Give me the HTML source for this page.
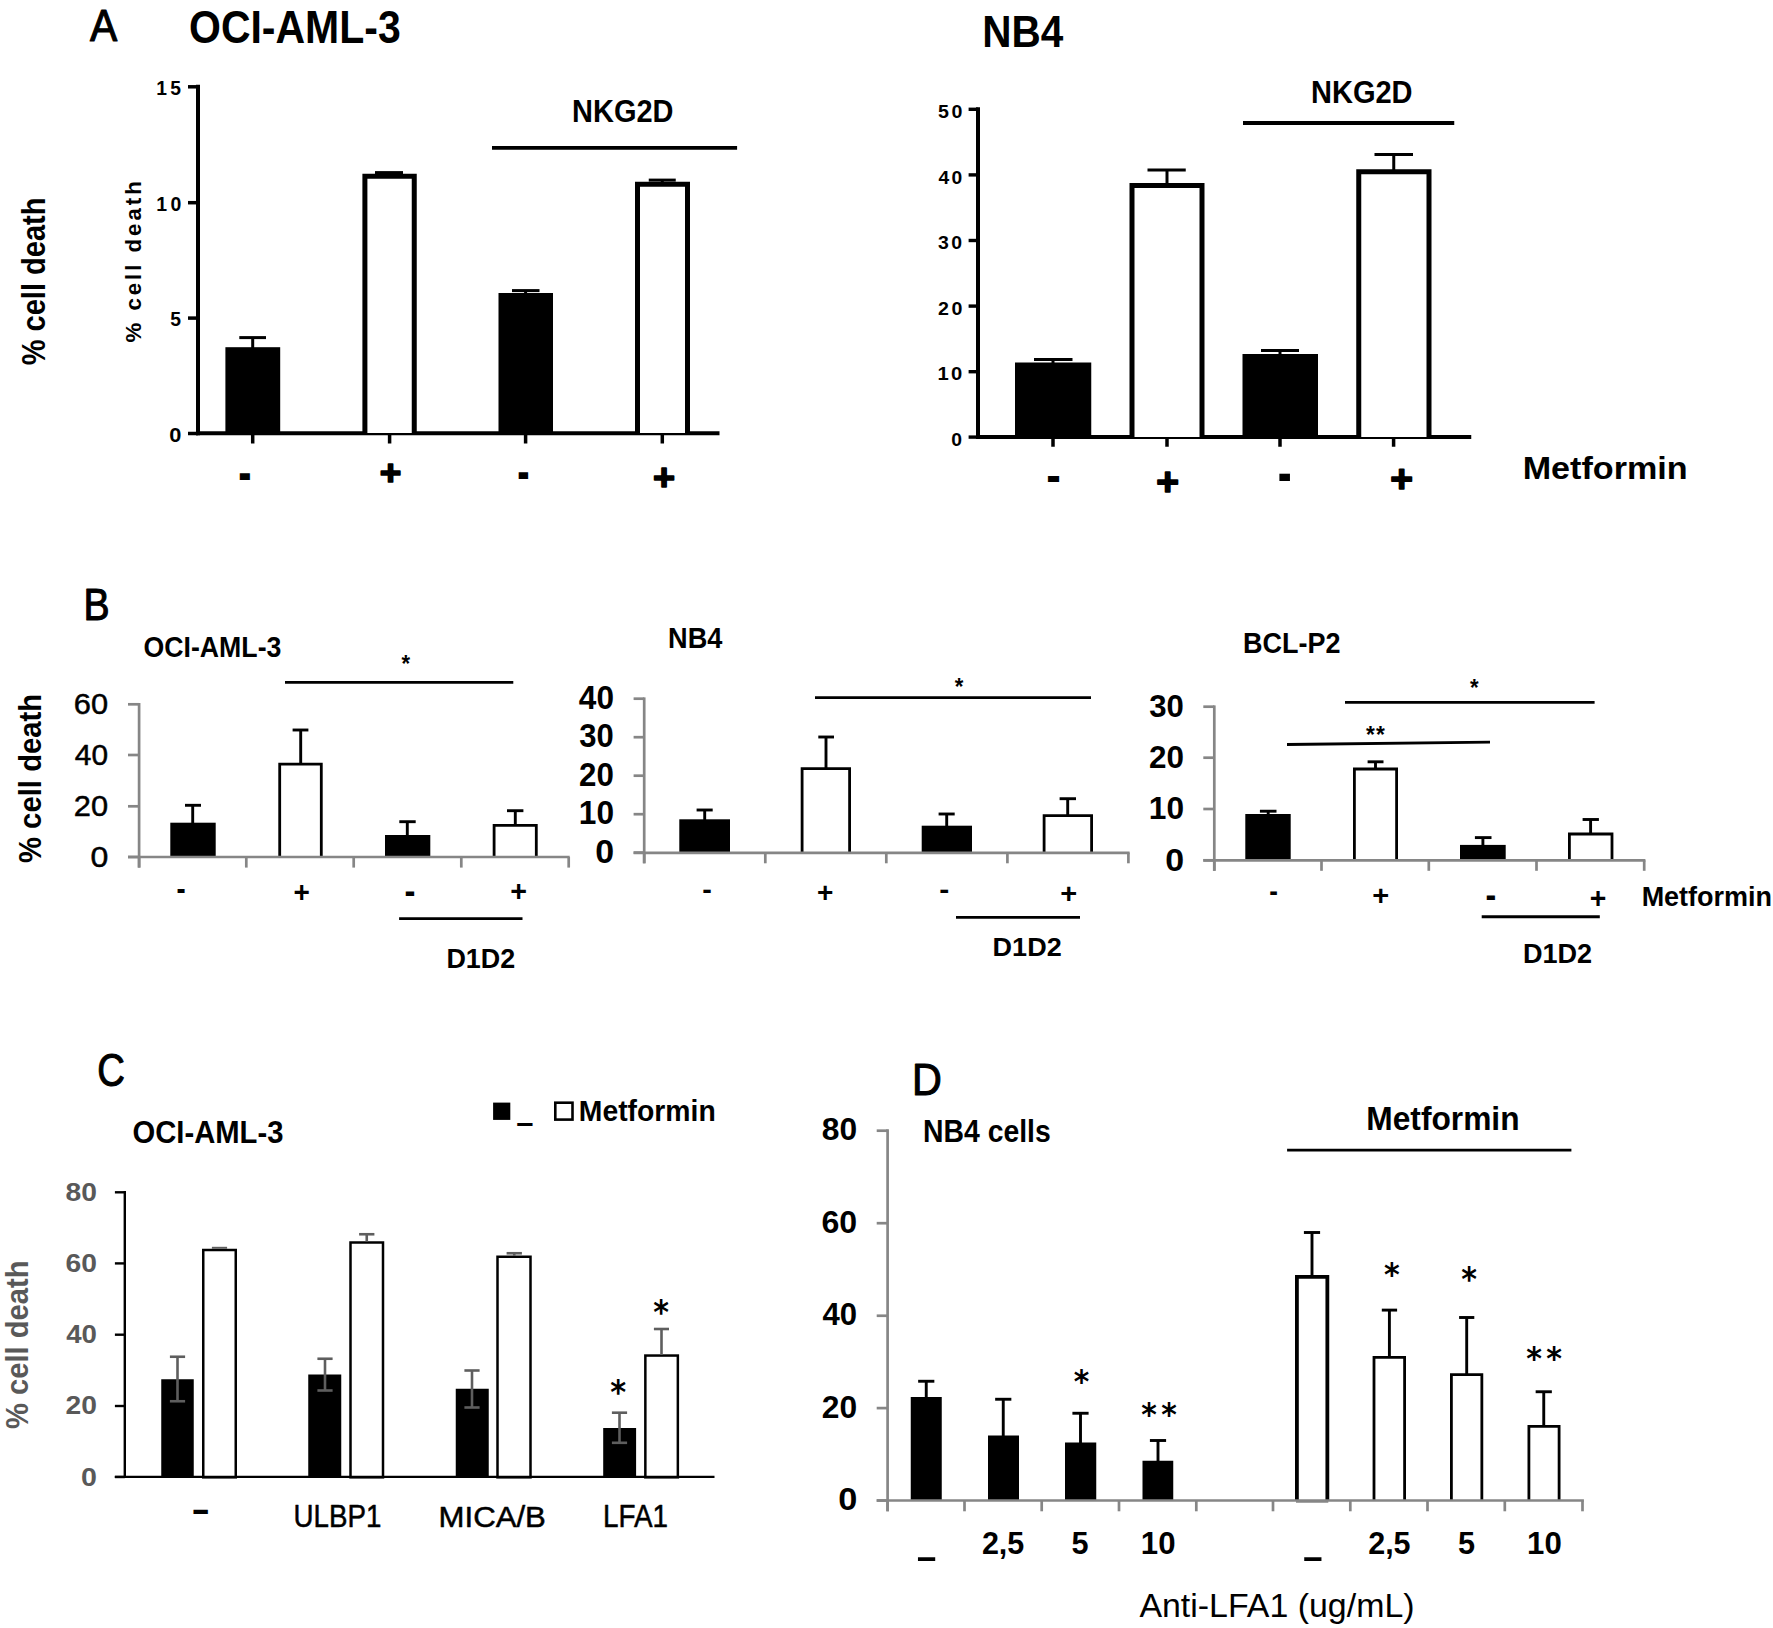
<!DOCTYPE html>
<html lang="en"><head><meta charset="utf-8"><title>Figure</title>
<style>html,body{margin:0;padding:0;background:#fff}svg{display:block}text{white-space:pre}</style></head>
<body>
<svg width="1773" height="1628" viewBox="0 0 1773 1628">
<line x1="198.00" y1="84.80" x2="198.00" y2="435.30" stroke="#000" stroke-width="4"/>
<line x1="188.00" y1="86.80" x2="198.00" y2="86.80" stroke="#000" stroke-width="3.5"/>
<line x1="188.00" y1="202.70" x2="198.00" y2="202.70" stroke="#000" stroke-width="3.5"/>
<line x1="188.00" y1="318.10" x2="198.00" y2="318.10" stroke="#000" stroke-width="3.5"/>
<line x1="188.00" y1="433.50" x2="198.00" y2="433.50" stroke="#000" stroke-width="3.5"/>
<line x1="196.00" y1="433.30" x2="719.50" y2="433.30" stroke="#000" stroke-width="4"/>
<line x1="252.70" y1="433.00" x2="252.70" y2="443.50" stroke="#000" stroke-width="3.5"/>
<line x1="389.60" y1="433.00" x2="389.60" y2="443.50" stroke="#000" stroke-width="3.5"/>
<line x1="525.60" y1="433.00" x2="525.60" y2="443.50" stroke="#000" stroke-width="3.5"/>
<line x1="662.30" y1="433.00" x2="662.30" y2="443.50" stroke="#000" stroke-width="3.5"/>
<rect x="225.40" y="347.20" width="54.80" height="85.80" fill="#000"/>
<line x1="252.70" y1="337.60" x2="252.70" y2="348.00" stroke="#000" stroke-width="3"/>
<line x1="239.30" y1="337.60" x2="266.00" y2="337.60" stroke="#000" stroke-width="3"/>
<path d="M364.90,433.00 L364.90,176.25 L414.25,176.25 L414.25,433.00" fill="#fff" stroke="#000" stroke-width="5"/>
<line x1="389.60" y1="172.60" x2="389.60" y2="174.00" stroke="#000" stroke-width="3"/>
<line x1="375.00" y1="172.60" x2="403.00" y2="172.60" stroke="#000" stroke-width="3"/>
<rect x="498.50" y="293.00" width="54.50" height="140.00" fill="#000"/>
<line x1="525.60" y1="290.60" x2="525.60" y2="294.00" stroke="#000" stroke-width="3"/>
<line x1="512.00" y1="290.60" x2="539.50" y2="290.60" stroke="#000" stroke-width="3"/>
<path d="M637.50,433.00 L637.50,184.25 L687.50,184.25 L687.50,433.00" fill="#fff" stroke="#000" stroke-width="5"/>
<line x1="662.30" y1="180.10" x2="662.30" y2="182.00" stroke="#000" stroke-width="3"/>
<line x1="648.75" y1="180.10" x2="675.75" y2="180.10" stroke="#000" stroke-width="3"/>
<line x1="492.00" y1="147.80" x2="737.10" y2="147.80" stroke="#000" stroke-width="3.8"/>
<line x1="978.00" y1="107.30" x2="978.00" y2="439.00" stroke="#000" stroke-width="4"/>
<line x1="968.60" y1="109.30" x2="978.00" y2="109.30" stroke="#000" stroke-width="3.4"/>
<line x1="968.60" y1="174.90" x2="978.00" y2="174.90" stroke="#000" stroke-width="3.4"/>
<line x1="968.60" y1="240.50" x2="978.00" y2="240.50" stroke="#000" stroke-width="3.4"/>
<line x1="968.60" y1="306.10" x2="978.00" y2="306.10" stroke="#000" stroke-width="3.4"/>
<line x1="968.60" y1="371.70" x2="978.00" y2="371.70" stroke="#000" stroke-width="3.4"/>
<line x1="968.60" y1="437.10" x2="978.00" y2="437.10" stroke="#000" stroke-width="3.4"/>
<line x1="976.00" y1="437.00" x2="1471.25" y2="437.00" stroke="#000" stroke-width="4"/>
<line x1="1053.00" y1="437.00" x2="1053.00" y2="446.75" stroke="#000" stroke-width="3.5"/>
<line x1="1167.00" y1="437.00" x2="1167.00" y2="446.75" stroke="#000" stroke-width="3.5"/>
<line x1="1280.00" y1="437.00" x2="1280.00" y2="446.75" stroke="#000" stroke-width="3.5"/>
<line x1="1393.60" y1="437.00" x2="1393.60" y2="446.75" stroke="#000" stroke-width="3.5"/>
<rect x="1015.00" y="362.50" width="76.25" height="74.50" fill="#000"/>
<line x1="1053.00" y1="359.50" x2="1053.00" y2="363.00" stroke="#000" stroke-width="3"/>
<line x1="1034.00" y1="359.50" x2="1072.50" y2="359.50" stroke="#000" stroke-width="3"/>
<path d="M1132.00,437.00 L1132.00,185.50 L1202.00,185.50 L1202.00,437.00" fill="#fff" stroke="#000" stroke-width="5"/>
<line x1="1167.00" y1="170.00" x2="1167.00" y2="184.00" stroke="#000" stroke-width="3"/>
<line x1="1147.50" y1="170.00" x2="1185.75" y2="170.00" stroke="#000" stroke-width="3"/>
<rect x="1242.50" y="354.00" width="75.50" height="83.00" fill="#000"/>
<line x1="1280.00" y1="350.50" x2="1280.00" y2="355.00" stroke="#000" stroke-width="3"/>
<line x1="1261.00" y1="350.50" x2="1299.00" y2="350.50" stroke="#000" stroke-width="3"/>
<path d="M1358.75,437.00 L1358.75,171.75 L1429.00,171.75 L1429.00,437.00" fill="#fff" stroke="#000" stroke-width="5"/>
<line x1="1393.75" y1="154.50" x2="1393.75" y2="170.00" stroke="#000" stroke-width="3"/>
<line x1="1374.50" y1="154.50" x2="1413.00" y2="154.50" stroke="#000" stroke-width="3"/>
<line x1="1243.00" y1="123.00" x2="1454.25" y2="123.00" stroke="#000" stroke-width="3.8"/>
<rect x="170.30" y="822.70" width="45.40" height="34.30" fill="#000"/>
<line x1="192.70" y1="805.30" x2="192.70" y2="823.00" stroke="#000" stroke-width="2.9"/>
<line x1="185.00" y1="805.30" x2="201.00" y2="805.30" stroke="#000" stroke-width="2.9"/>
<path d="M279.70,857.00 L279.70,764.10 L321.30,764.10 L321.30,857.00" fill="#fff" stroke="#000" stroke-width="2.8"/>
<line x1="300.70" y1="730.00" x2="300.70" y2="763.00" stroke="#000" stroke-width="2.9"/>
<line x1="292.60" y1="730.00" x2="308.40" y2="730.00" stroke="#000" stroke-width="2.9"/>
<rect x="385.00" y="835.00" width="45.30" height="22.00" fill="#000"/>
<line x1="407.30" y1="821.70" x2="407.30" y2="836.00" stroke="#000" stroke-width="2.9"/>
<line x1="399.30" y1="821.70" x2="415.70" y2="821.70" stroke="#000" stroke-width="2.9"/>
<path d="M494.10,857.00 L494.10,825.40 L536.30,825.40 L536.30,857.00" fill="#fff" stroke="#000" stroke-width="2.8"/>
<line x1="515.30" y1="810.70" x2="515.30" y2="825.00" stroke="#000" stroke-width="2.9"/>
<line x1="507.00" y1="810.70" x2="523.40" y2="810.70" stroke="#000" stroke-width="2.9"/>
<line x1="285.00" y1="682.30" x2="513.30" y2="682.30" stroke="#000" stroke-width="2.8"/>
<line x1="399.10" y1="918.60" x2="522.50" y2="918.60" stroke="#000" stroke-width="2.8"/>
<rect x="679.30" y="819.30" width="50.70" height="33.30" fill="#000"/>
<line x1="704.70" y1="810.00" x2="704.70" y2="820.00" stroke="#000" stroke-width="2.9"/>
<line x1="696.60" y1="810.00" x2="712.70" y2="810.00" stroke="#000" stroke-width="2.9"/>
<path d="M802.10,852.80 L802.10,768.70 L849.60,768.70 L849.60,852.80" fill="#fff" stroke="#000" stroke-width="2.8"/>
<line x1="826.00" y1="737.00" x2="826.00" y2="768.00" stroke="#000" stroke-width="2.9"/>
<line x1="818.30" y1="737.00" x2="834.00" y2="737.00" stroke="#000" stroke-width="2.9"/>
<rect x="921.70" y="825.70" width="50.30" height="26.90" fill="#000"/>
<line x1="946.70" y1="814.00" x2="946.70" y2="826.00" stroke="#000" stroke-width="2.9"/>
<line x1="938.60" y1="814.00" x2="954.70" y2="814.00" stroke="#000" stroke-width="2.9"/>
<path d="M1044.10,852.80 L1044.10,815.70 L1091.60,815.70 L1091.60,852.80" fill="#fff" stroke="#000" stroke-width="2.8"/>
<line x1="1067.70" y1="798.70" x2="1067.70" y2="815.00" stroke="#000" stroke-width="2.9"/>
<line x1="1059.60" y1="798.70" x2="1076.00" y2="798.70" stroke="#000" stroke-width="2.9"/>
<line x1="815.00" y1="697.70" x2="1091.00" y2="697.70" stroke="#000" stroke-width="2.8"/>
<line x1="956.00" y1="917.30" x2="1080.00" y2="917.30" stroke="#000" stroke-width="2.8"/>
<rect x="1245.30" y="814.00" width="45.40" height="46.30" fill="#000"/>
<line x1="1268.20" y1="811.20" x2="1268.20" y2="815.00" stroke="#000" stroke-width="2.9"/>
<line x1="1259.90" y1="811.20" x2="1276.50" y2="811.20" stroke="#000" stroke-width="2.9"/>
<path d="M1354.40,860.30 L1354.40,769.00 L1396.60,769.00 L1396.60,860.30" fill="#fff" stroke="#000" stroke-width="2.8"/>
<line x1="1375.50" y1="761.80" x2="1375.50" y2="768.00" stroke="#000" stroke-width="2.9"/>
<line x1="1367.60" y1="761.80" x2="1383.50" y2="761.80" stroke="#000" stroke-width="2.9"/>
<rect x="1460.00" y="844.90" width="45.70" height="15.40" fill="#000"/>
<line x1="1482.90" y1="837.60" x2="1482.90" y2="846.00" stroke="#000" stroke-width="2.9"/>
<line x1="1474.90" y1="837.60" x2="1491.50" y2="837.60" stroke="#000" stroke-width="2.9"/>
<path d="M1569.40,860.30 L1569.40,834.00 L1612.00,834.00 L1612.00,860.30" fill="#fff" stroke="#000" stroke-width="2.8"/>
<line x1="1590.60" y1="819.50" x2="1590.60" y2="833.00" stroke="#000" stroke-width="2.9"/>
<line x1="1582.60" y1="819.50" x2="1598.90" y2="819.50" stroke="#000" stroke-width="2.9"/>
<line x1="1345.00" y1="702.30" x2="1594.60" y2="702.30" stroke="#000" stroke-width="2.8"/>
<line x1="1287.00" y1="744.50" x2="1490.00" y2="742.20" stroke="#000" stroke-width="2.8"/>
<line x1="1481.70" y1="916.80" x2="1599.80" y2="916.80" stroke="#000" stroke-width="3"/>
<rect x="161.25" y="1379.25" width="32.50" height="97.75" fill="#000"/>
<line x1="177.50" y1="1356.75" x2="177.50" y2="1401.25" stroke="#5e5e5e" stroke-width="2.6"/>
<line x1="169.90" y1="1356.75" x2="185.10" y2="1356.75" stroke="#5e5e5e" stroke-width="2.6"/>
<line x1="169.90" y1="1401.25" x2="185.10" y2="1401.25" stroke="#5e5e5e" stroke-width="2.6"/>
<rect x="203.25" y="1250.00" width="32.50" height="227.35" fill="#fff" stroke="#000" stroke-width="2.5"/>
<line x1="211.90" y1="1247.80" x2="227.10" y2="1247.80" stroke="#5e5e5e" stroke-width="2"/>
<rect x="308.25" y="1374.50" width="33.00" height="102.50" fill="#000"/>
<line x1="325.00" y1="1358.75" x2="325.00" y2="1390.50" stroke="#5e5e5e" stroke-width="2.6"/>
<line x1="317.40" y1="1358.75" x2="332.60" y2="1358.75" stroke="#5e5e5e" stroke-width="2.6"/>
<line x1="317.40" y1="1390.50" x2="332.60" y2="1390.50" stroke="#5e5e5e" stroke-width="2.6"/>
<rect x="350.50" y="1242.50" width="32.50" height="234.85" fill="#fff" stroke="#000" stroke-width="2.5"/>
<line x1="366.75" y1="1234.25" x2="366.75" y2="1241.50" stroke="#5e5e5e" stroke-width="2.6"/>
<line x1="359.10" y1="1234.25" x2="374.40" y2="1234.25" stroke="#5e5e5e" stroke-width="2.6"/>
<rect x="455.75" y="1388.75" width="33.00" height="88.25" fill="#000"/>
<line x1="472.00" y1="1370.50" x2="472.00" y2="1407.50" stroke="#5e5e5e" stroke-width="2.6"/>
<line x1="464.40" y1="1370.50" x2="479.60" y2="1370.50" stroke="#5e5e5e" stroke-width="2.6"/>
<line x1="464.40" y1="1407.50" x2="479.60" y2="1407.50" stroke="#5e5e5e" stroke-width="2.6"/>
<rect x="497.50" y="1256.75" width="33.00" height="220.60" fill="#fff" stroke="#000" stroke-width="2.5"/>
<line x1="514.25" y1="1253.25" x2="514.25" y2="1256.00" stroke="#5e5e5e" stroke-width="2.6"/>
<line x1="506.60" y1="1253.25" x2="521.90" y2="1253.25" stroke="#5e5e5e" stroke-width="2.6"/>
<rect x="603.20" y="1428.00" width="32.90" height="49.00" fill="#000"/>
<line x1="619.50" y1="1412.70" x2="619.50" y2="1442.80" stroke="#5e5e5e" stroke-width="2.6"/>
<line x1="611.90" y1="1412.70" x2="627.10" y2="1412.70" stroke="#5e5e5e" stroke-width="2.6"/>
<line x1="611.90" y1="1442.80" x2="627.10" y2="1442.80" stroke="#5e5e5e" stroke-width="2.6"/>
<rect x="645.35" y="1355.55" width="32.50" height="121.80" fill="#fff" stroke="#000" stroke-width="2.5"/>
<line x1="661.50" y1="1329.00" x2="661.50" y2="1355.00" stroke="#5e5e5e" stroke-width="2.6"/>
<line x1="653.90" y1="1329.00" x2="669.00" y2="1329.00" stroke="#5e5e5e" stroke-width="2.6"/>
<line x1="124.80" y1="1191.00" x2="124.80" y2="1478.00" stroke="#000" stroke-width="2.4"/>
<line x1="114.90" y1="1192.30" x2="124.80" y2="1192.30" stroke="#000" stroke-width="2.4"/>
<line x1="114.90" y1="1263.40" x2="124.80" y2="1263.40" stroke="#000" stroke-width="2.4"/>
<line x1="114.90" y1="1334.70" x2="124.80" y2="1334.70" stroke="#000" stroke-width="2.4"/>
<line x1="114.90" y1="1406.00" x2="124.80" y2="1406.00" stroke="#000" stroke-width="2.4"/>
<line x1="114.90" y1="1477.00" x2="124.80" y2="1477.00" stroke="#000" stroke-width="2.4"/>
<line x1="114.80" y1="1476.90" x2="714.50" y2="1476.90" stroke="#000" stroke-width="2.4"/>
<rect x="493.10" y="1102.60" width="17.20" height="17.30" fill="#000"/>
<rect x="555.30" y="1102.70" width="17.20" height="16.90" fill="#fff" stroke="#000" stroke-width="2.6"/>
<rect x="910.75" y="1397.00" width="31.00" height="103.50" fill="#000"/>
<line x1="926.25" y1="1381.25" x2="926.25" y2="1398.00" stroke="#000" stroke-width="2.9"/>
<line x1="918.15" y1="1381.25" x2="934.35" y2="1381.25" stroke="#000" stroke-width="2.9"/>
<rect x="988.00" y="1435.50" width="31.00" height="65.00" fill="#000"/>
<line x1="1003.25" y1="1399.25" x2="1003.25" y2="1436.00" stroke="#000" stroke-width="2.9"/>
<line x1="995.15" y1="1399.25" x2="1011.35" y2="1399.25" stroke="#000" stroke-width="2.9"/>
<rect x="1065.00" y="1442.50" width="31.25" height="58.00" fill="#000"/>
<line x1="1080.50" y1="1413.25" x2="1080.50" y2="1443.00" stroke="#000" stroke-width="2.9"/>
<line x1="1072.40" y1="1413.25" x2="1088.60" y2="1413.25" stroke="#000" stroke-width="2.9"/>
<rect x="1142.50" y="1460.75" width="30.75" height="39.75" fill="#000"/>
<line x1="1158.00" y1="1440.50" x2="1158.00" y2="1461.00" stroke="#000" stroke-width="2.9"/>
<line x1="1149.90" y1="1440.50" x2="1166.10" y2="1440.50" stroke="#000" stroke-width="2.9"/>
<path d="M1296.90,1500.50 L1296.90,1276.90 L1327.35,1276.90 L1327.35,1500.50" fill="#fff" stroke="#000" stroke-width="3.8"/>
<line x1="1312.00" y1="1232.50" x2="1312.00" y2="1276.00" stroke="#000" stroke-width="2.9"/>
<line x1="1303.90" y1="1232.50" x2="1320.10" y2="1232.50" stroke="#000" stroke-width="2.9"/>
<path d="M1374.00,1500.50 L1374.00,1357.40 L1404.60,1357.40 L1404.60,1500.50" fill="#fff" stroke="#000" stroke-width="2.8"/>
<line x1="1389.40" y1="1310.10" x2="1389.40" y2="1357.00" stroke="#000" stroke-width="2.9"/>
<line x1="1381.80" y1="1310.10" x2="1397.10" y2="1310.10" stroke="#000" stroke-width="2.9"/>
<path d="M1451.40,1500.50 L1451.40,1374.65 L1481.85,1374.65 L1481.85,1500.50" fill="#fff" stroke="#000" stroke-width="2.8"/>
<line x1="1466.70" y1="1317.50" x2="1466.70" y2="1374.00" stroke="#000" stroke-width="2.9"/>
<line x1="1459.10" y1="1317.50" x2="1474.30" y2="1317.50" stroke="#000" stroke-width="2.9"/>
<path d="M1528.90,1500.50 L1528.90,1426.40 L1559.10,1426.40 L1559.10,1500.50" fill="#fff" stroke="#000" stroke-width="2.8"/>
<line x1="1543.75" y1="1391.75" x2="1543.75" y2="1426.00" stroke="#000" stroke-width="2.9"/>
<line x1="1535.65" y1="1391.75" x2="1551.85" y2="1391.75" stroke="#000" stroke-width="2.9"/>
<line x1="1287.10" y1="1150.10" x2="1571.40" y2="1150.10" stroke="#000" stroke-width="2.8"/>
<line x1="139.10" y1="703.00" x2="139.10" y2="867.60" stroke="#868686" stroke-width="2.7"/>
<line x1="128.00" y1="704.30" x2="139.10" y2="704.30" stroke="#868686" stroke-width="2.7"/>
<line x1="128.00" y1="755.00" x2="139.10" y2="755.00" stroke="#868686" stroke-width="2.7"/>
<line x1="128.00" y1="806.30" x2="139.10" y2="806.30" stroke="#868686" stroke-width="2.7"/>
<line x1="128.00" y1="857.00" x2="139.10" y2="857.00" stroke="#868686" stroke-width="2.7"/>
<line x1="128.00" y1="857.00" x2="569.70" y2="857.00" stroke="#868686" stroke-width="2.7"/>
<line x1="139.10" y1="857.00" x2="139.10" y2="867.60" stroke="#868686" stroke-width="2.7"/>
<line x1="246.30" y1="857.00" x2="246.30" y2="867.60" stroke="#868686" stroke-width="2.7"/>
<line x1="353.70" y1="857.00" x2="353.70" y2="867.60" stroke="#868686" stroke-width="2.7"/>
<line x1="461.30" y1="857.00" x2="461.30" y2="867.60" stroke="#868686" stroke-width="2.7"/>
<line x1="568.70" y1="857.00" x2="568.70" y2="867.60" stroke="#868686" stroke-width="2.7"/>
<line x1="644.20" y1="697.40" x2="644.20" y2="863.30" stroke="#868686" stroke-width="2.7"/>
<line x1="633.60" y1="698.70" x2="644.20" y2="698.70" stroke="#868686" stroke-width="2.7"/>
<line x1="633.60" y1="737.20" x2="644.20" y2="737.20" stroke="#868686" stroke-width="2.7"/>
<line x1="633.60" y1="775.70" x2="644.20" y2="775.70" stroke="#868686" stroke-width="2.7"/>
<line x1="633.60" y1="814.20" x2="644.20" y2="814.20" stroke="#868686" stroke-width="2.7"/>
<line x1="633.60" y1="852.60" x2="644.20" y2="852.60" stroke="#868686" stroke-width="2.7"/>
<line x1="633.60" y1="852.80" x2="1129.60" y2="852.80" stroke="#868686" stroke-width="2.7"/>
<line x1="644.20" y1="852.60" x2="644.20" y2="863.30" stroke="#868686" stroke-width="2.7"/>
<line x1="765.30" y1="852.60" x2="765.30" y2="863.30" stroke="#868686" stroke-width="2.7"/>
<line x1="886.30" y1="852.60" x2="886.30" y2="863.30" stroke="#868686" stroke-width="2.7"/>
<line x1="1007.40" y1="852.60" x2="1007.40" y2="863.30" stroke="#868686" stroke-width="2.7"/>
<line x1="1128.40" y1="852.60" x2="1128.40" y2="863.30" stroke="#868686" stroke-width="2.7"/>
<line x1="1214.30" y1="705.40" x2="1214.30" y2="870.80" stroke="#868686" stroke-width="2.7"/>
<line x1="1203.30" y1="706.70" x2="1214.30" y2="706.70" stroke="#868686" stroke-width="2.7"/>
<line x1="1203.30" y1="757.70" x2="1214.30" y2="757.70" stroke="#868686" stroke-width="2.7"/>
<line x1="1203.30" y1="809.00" x2="1214.30" y2="809.00" stroke="#868686" stroke-width="2.7"/>
<line x1="1203.30" y1="860.30" x2="1214.30" y2="860.30" stroke="#868686" stroke-width="2.7"/>
<line x1="1203.30" y1="860.30" x2="1645.40" y2="860.30" stroke="#868686" stroke-width="2.7"/>
<line x1="1214.30" y1="860.30" x2="1214.30" y2="870.80" stroke="#868686" stroke-width="2.7"/>
<line x1="1321.50" y1="860.30" x2="1321.50" y2="870.80" stroke="#868686" stroke-width="2.7"/>
<line x1="1428.80" y1="860.30" x2="1428.80" y2="870.80" stroke="#868686" stroke-width="2.7"/>
<line x1="1536.50" y1="860.30" x2="1536.50" y2="870.80" stroke="#868686" stroke-width="2.7"/>
<line x1="1644.20" y1="860.30" x2="1644.20" y2="870.80" stroke="#868686" stroke-width="2.7"/>
<line x1="887.60" y1="1129.30" x2="887.60" y2="1511.30" stroke="#868686" stroke-width="2.7"/>
<line x1="876.70" y1="1130.70" x2="887.60" y2="1130.70" stroke="#868686" stroke-width="2.7"/>
<line x1="876.70" y1="1223.20" x2="887.60" y2="1223.20" stroke="#868686" stroke-width="2.7"/>
<line x1="876.70" y1="1315.75" x2="887.60" y2="1315.75" stroke="#868686" stroke-width="2.7"/>
<line x1="876.70" y1="1408.10" x2="887.60" y2="1408.10" stroke="#868686" stroke-width="2.7"/>
<line x1="876.70" y1="1500.50" x2="887.60" y2="1500.50" stroke="#868686" stroke-width="2.7"/>
<line x1="876.70" y1="1500.50" x2="1583.90" y2="1500.50" stroke="#868686" stroke-width="2.7"/>
<line x1="887.60" y1="1500.50" x2="887.60" y2="1511.30" stroke="#868686" stroke-width="2.7"/>
<line x1="964.50" y1="1500.50" x2="964.50" y2="1511.30" stroke="#868686" stroke-width="2.7"/>
<line x1="1041.70" y1="1500.50" x2="1041.70" y2="1511.30" stroke="#868686" stroke-width="2.7"/>
<line x1="1119.00" y1="1500.50" x2="1119.00" y2="1511.30" stroke="#868686" stroke-width="2.7"/>
<line x1="1196.30" y1="1500.50" x2="1196.30" y2="1511.30" stroke="#868686" stroke-width="2.7"/>
<line x1="1273.00" y1="1500.50" x2="1273.00" y2="1511.30" stroke="#868686" stroke-width="2.7"/>
<line x1="1350.30" y1="1500.50" x2="1350.30" y2="1511.30" stroke="#868686" stroke-width="2.7"/>
<line x1="1427.50" y1="1500.50" x2="1427.50" y2="1511.30" stroke="#868686" stroke-width="2.7"/>
<line x1="1504.80" y1="1500.50" x2="1504.80" y2="1511.30" stroke="#868686" stroke-width="2.7"/>
<line x1="1582.50" y1="1500.50" x2="1582.50" y2="1511.30" stroke="#868686" stroke-width="2.7"/>
<line x1="1296.00" y1="1501.60" x2="1328.30" y2="1501.60" stroke="#868686" stroke-width="2.4"/>
<text x="90.03" y="41.23" fill="#000" font-family='"Liberation Sans", sans-serif' font-size="44.546" font-weight="normal" textLength="27.281" lengthAdjust="spacingAndGlyphs" stroke="#000" stroke-width="1.1" stroke-linejoin="round">A</text>
<text x="189.03" y="43.37" fill="#000" font-family='"Liberation Sans", sans-serif' font-size="45.472" font-weight="bold" textLength="211.666" lengthAdjust="spacingAndGlyphs">OCI-AML-3</text>
<text x="572.10" y="122.27" fill="#000" font-family='"Liberation Sans", sans-serif' font-size="31.878" font-weight="bold" textLength="101.401" lengthAdjust="spacingAndGlyphs">NKG2D</text>
<text x="156.17" y="95.00" fill="#000" font-family='"Liberation Sans", sans-serif' font-size="20.007" font-weight="bold" textLength="28.431" lengthAdjust="spacingAndGlyphs" letter-spacing="3.601">15</text>
<text x="156.17" y="210.90" fill="#000" font-family='"Liberation Sans", sans-serif' font-size="19.706" font-weight="bold" textLength="28.697" lengthAdjust="spacingAndGlyphs" letter-spacing="3.547">10</text>
<text x="170.33" y="326.30" fill="#000" font-family='"Liberation Sans", sans-serif' font-size="20.007" font-weight="bold" textLength="14.245" lengthAdjust="spacingAndGlyphs" letter-spacing="3.601">5</text>
<text x="169.30" y="441.70" fill="#000" font-family='"Liberation Sans", sans-serif' font-size="19.706" font-weight="bold" textLength="16.051" lengthAdjust="spacingAndGlyphs" letter-spacing="3.547">0</text>
<text transform="translate(44.97,365.37) rotate(-90)" fill="#000" font-family='"Liberation Sans", sans-serif' font-size="33.184" font-weight="bold" textLength="167.829" lengthAdjust="spacingAndGlyphs">% cell death</text>
<text transform="translate(141.17,342.47) rotate(-90)" fill="#000" font-family='"Liberation Sans", sans-serif' font-size="22.276" font-weight="bold" letter-spacing="2.956">% cell death</text>
<text x="238.33" y="491.03" fill="#000" font-family='"Liberation Sans", sans-serif' font-size="56.063" font-weight="bold" textLength="13.196" lengthAdjust="spacingAndGlyphs">-</text>
<text x="379.83" y="484.50" fill="#000" font-family='"Liberation Sans", sans-serif' font-size="34.221" font-weight="bold" textLength="21.567" lengthAdjust="spacingAndGlyphs" stroke="#000" stroke-width="1.6" stroke-linejoin="round">+</text>
<text x="517.27" y="489.83" fill="#000" font-family='"Liberation Sans", sans-serif' font-size="56.055" font-weight="bold" textLength="12.294" lengthAdjust="spacingAndGlyphs">-</text>
<text x="652.93" y="490.00" fill="#000" font-family='"Liberation Sans", sans-serif' font-size="36.304" font-weight="bold" textLength="22.097" lengthAdjust="spacingAndGlyphs" stroke="#000" stroke-width="1.6" stroke-linejoin="round">+</text>
<text x="982.23" y="47.20" fill="#000" font-family='"Liberation Sans", sans-serif' font-size="44.277" font-weight="bold" textLength="81.056" lengthAdjust="spacingAndGlyphs">NB4</text>
<text x="1311.00" y="102.57" fill="#000" font-family='"Liberation Sans", sans-serif' font-size="31.644" font-weight="bold" textLength="101.573" lengthAdjust="spacingAndGlyphs">NKG2D</text>
<text x="938.13" y="117.90" fill="#000" font-family='"Liberation Sans", sans-serif' font-size="18.992" font-weight="bold" textLength="26.534" lengthAdjust="spacingAndGlyphs" letter-spacing="2.279">50</text>
<text x="938.47" y="183.50" fill="#000" font-family='"Liberation Sans", sans-serif' font-size="18.992" font-weight="bold" textLength="26.034" lengthAdjust="spacingAndGlyphs" letter-spacing="2.279">40</text>
<text x="938.13" y="248.77" fill="#000" font-family='"Liberation Sans", sans-serif' font-size="18.517" font-weight="bold" textLength="26.281" lengthAdjust="spacingAndGlyphs" letter-spacing="2.222">30</text>
<text x="938.13" y="314.70" fill="#000" font-family='"Liberation Sans", sans-serif' font-size="18.992" font-weight="bold" textLength="26.534" lengthAdjust="spacingAndGlyphs" letter-spacing="2.279">20</text>
<text x="937.47" y="380.30" fill="#000" font-family='"Liberation Sans", sans-serif' font-size="18.992" font-weight="bold" textLength="27.322" lengthAdjust="spacingAndGlyphs" letter-spacing="2.279">10</text>
<text x="951.33" y="445.80" fill="#000" font-family='"Liberation Sans", sans-serif' font-size="18.992" font-weight="bold" textLength="13.071" lengthAdjust="spacingAndGlyphs" letter-spacing="2.279">0</text>
<text x="1046.33" y="492.00" fill="#000" font-family='"Liberation Sans", sans-serif' font-size="49.395" font-weight="bold" textLength="14.585" lengthAdjust="spacingAndGlyphs">-</text>
<text x="1156.33" y="495.33" fill="#000" font-family='"Liberation Sans", sans-serif' font-size="38.116" font-weight="bold" textLength="22.800" lengthAdjust="spacingAndGlyphs" stroke="#000" stroke-width="1.6" stroke-linejoin="round">+</text>
<text x="1277.83" y="493.33" fill="#000" font-family='"Liberation Sans", sans-serif' font-size="61.441" font-weight="bold" textLength="13.891" lengthAdjust="spacingAndGlyphs">-</text>
<text x="1390.33" y="492.43" fill="#000" font-family='"Liberation Sans", sans-serif' font-size="38.426" font-weight="bold" textLength="22.798" lengthAdjust="spacingAndGlyphs" stroke="#000" stroke-width="1.6" stroke-linejoin="round">+</text>
<text x="1522.67" y="479.47" fill="#000" font-family='"Liberation Sans", sans-serif' font-size="30.913" font-weight="bold" textLength="165.054" lengthAdjust="spacingAndGlyphs">Metformin</text>
<text x="83.43" y="619.63" fill="#000" font-family='"Liberation Sans", sans-serif' font-size="44.082" font-weight="normal" textLength="26.109" lengthAdjust="spacingAndGlyphs" stroke="#000" stroke-width="1.1" stroke-linejoin="round">B</text>
<text x="143.50" y="656.67" fill="#000" font-family='"Liberation Sans", sans-serif' font-size="29.298" font-weight="bold" textLength="137.896" lengthAdjust="spacingAndGlyphs">OCI-AML-3</text>
<text x="401.40" y="672.07" fill="#000" font-family='"Liberation Sans", sans-serif' font-size="23.686" font-weight="bold" textLength="8.599" lengthAdjust="spacingAndGlyphs">*</text>
<text transform="translate(40.87,863.07) rotate(-90)" fill="#000" font-family='"Liberation Sans", sans-serif' font-size="31.364" font-weight="bold" textLength="169.351" lengthAdjust="spacingAndGlyphs">% cell death</text>
<text x="73.87" y="713.83" fill="#000" font-family='"Liberation Sans", sans-serif' font-size="30.234" font-weight="normal" textLength="34.276" lengthAdjust="spacingAndGlyphs" stroke="#000" stroke-width="0.5" stroke-linejoin="round">60</text>
<text x="74.87" y="764.53" fill="#000" font-family='"Liberation Sans", sans-serif' font-size="30.234" font-weight="normal" textLength="33.204" lengthAdjust="spacingAndGlyphs" stroke="#000" stroke-width="0.5" stroke-linejoin="round">40</text>
<text x="73.87" y="815.73" fill="#000" font-family='"Liberation Sans", sans-serif' font-size="30.234" font-weight="normal" textLength="34.276" lengthAdjust="spacingAndGlyphs" stroke="#000" stroke-width="0.5" stroke-linejoin="round">20</text>
<text x="90.50" y="866.53" fill="#000" font-family='"Liberation Sans", sans-serif' font-size="30.234" font-weight="normal" textLength="17.830" lengthAdjust="spacingAndGlyphs" stroke="#000" stroke-width="0.5" stroke-linejoin="round">0</text>
<text x="176.60" y="899.87" fill="#000" font-family='"Liberation Sans", sans-serif' font-size="32.956" font-weight="bold" textLength="9.142" lengthAdjust="spacingAndGlyphs">-</text>
<text x="293.57" y="902.13" fill="#000" font-family='"Liberation Sans", sans-serif' font-size="29.037" font-weight="bold" textLength="16.362" lengthAdjust="spacingAndGlyphs">+</text>
<text x="404.57" y="903.23" fill="#000" font-family='"Liberation Sans", sans-serif' font-size="36.919" font-weight="bold" textLength="10.933" lengthAdjust="spacingAndGlyphs">-</text>
<text x="510.17" y="901.23" fill="#000" font-family='"Liberation Sans", sans-serif' font-size="29.038" font-weight="bold" textLength="16.756" lengthAdjust="spacingAndGlyphs">+</text>
<text x="446.43" y="968.10" fill="#000" font-family='"Liberation Sans", sans-serif' font-size="27.384" font-weight="bold" textLength="68.860" lengthAdjust="spacingAndGlyphs">D1D2</text>
<text x="668.03" y="648.30" fill="#000" font-family='"Liberation Sans", sans-serif' font-size="29.037" font-weight="bold" textLength="54.326" lengthAdjust="spacingAndGlyphs">NB4</text>
<text x="954.80" y="695.47" fill="#000" font-family='"Liberation Sans", sans-serif' font-size="23.657" font-weight="bold" textLength="8.599" lengthAdjust="spacingAndGlyphs">*</text>
<text x="578.87" y="708.87" fill="#000" font-family='"Liberation Sans", sans-serif' font-size="32.348" font-weight="bold" textLength="35.133" lengthAdjust="spacingAndGlyphs">40</text>
<text x="579.33" y="747.37" fill="#000" font-family='"Liberation Sans", sans-serif' font-size="32.348" font-weight="bold" textLength="34.442" lengthAdjust="spacingAndGlyphs">30</text>
<text x="579.00" y="785.87" fill="#000" font-family='"Liberation Sans", sans-serif' font-size="32.348" font-weight="bold" textLength="34.812" lengthAdjust="spacingAndGlyphs">20</text>
<text x="578.80" y="824.37" fill="#000" font-family='"Liberation Sans", sans-serif' font-size="32.348" font-weight="bold" textLength="35.231" lengthAdjust="spacingAndGlyphs">10</text>
<text x="595.17" y="862.77" fill="#000" font-family='"Liberation Sans", sans-serif' font-size="32.348" font-weight="bold" textLength="18.880" lengthAdjust="spacingAndGlyphs">0</text>
<text x="702.30" y="899.17" fill="#000" font-family='"Liberation Sans", sans-serif' font-size="27.614" font-weight="bold" textLength="9.573" lengthAdjust="spacingAndGlyphs">-</text>
<text x="816.97" y="902.33" fill="#000" font-family='"Liberation Sans", sans-serif' font-size="28.059" font-weight="bold" textLength="16.363" lengthAdjust="spacingAndGlyphs">+</text>
<text x="939.37" y="899.17" fill="#000" font-family='"Liberation Sans", sans-serif' font-size="27.614" font-weight="bold" textLength="10.008" lengthAdjust="spacingAndGlyphs">-</text>
<text x="1060.37" y="903.33" fill="#000" font-family='"Liberation Sans", sans-serif' font-size="28.379" font-weight="bold" textLength="16.952" lengthAdjust="spacingAndGlyphs">+</text>
<text x="992.63" y="956.00" fill="#000" font-family='"Liberation Sans", sans-serif' font-size="26.434" font-weight="bold" textLength="69.035" lengthAdjust="spacingAndGlyphs">D1D2</text>
<text x="1243.03" y="653.27" fill="#000" font-family='"Liberation Sans", sans-serif' font-size="29.066" font-weight="bold" textLength="97.510" lengthAdjust="spacingAndGlyphs">BCL-P2</text>
<text x="1470.00" y="695.57" fill="#000" font-family='"Liberation Sans", sans-serif' font-size="23.651" font-weight="bold" textLength="8.612" lengthAdjust="spacingAndGlyphs">*</text>
<text x="1365.90" y="742.67" fill="#000" font-family='"Liberation Sans", sans-serif' font-size="24.094" font-weight="bold" textLength="20.410" lengthAdjust="spacingAndGlyphs" letter-spacing="1.446">**</text>
<text x="1149.23" y="717.07" fill="#000" font-family='"Liberation Sans", sans-serif' font-size="31.411" font-weight="bold" textLength="34.620" lengthAdjust="spacingAndGlyphs">30</text>
<text x="1148.90" y="768.07" fill="#000" font-family='"Liberation Sans", sans-serif' font-size="31.411" font-weight="bold" textLength="34.992" lengthAdjust="spacingAndGlyphs">20</text>
<text x="1148.80" y="819.37" fill="#000" font-family='"Liberation Sans", sans-serif' font-size="31.411" font-weight="bold" textLength="35.231" lengthAdjust="spacingAndGlyphs">10</text>
<text x="1165.17" y="870.67" fill="#000" font-family='"Liberation Sans", sans-serif' font-size="31.411" font-weight="bold" textLength="18.880" lengthAdjust="spacingAndGlyphs">0</text>
<text x="1269.30" y="901.17" fill="#000" font-family='"Liberation Sans", sans-serif' font-size="28.767" font-weight="bold" textLength="8.667" lengthAdjust="spacingAndGlyphs">-</text>
<text x="1372.37" y="904.93" fill="#000" font-family='"Liberation Sans", sans-serif' font-size="28.053" font-weight="bold" textLength="16.951" lengthAdjust="spacingAndGlyphs">+</text>
<text x="1485.57" y="907.13" fill="#000" font-family='"Liberation Sans", sans-serif' font-size="36.919" font-weight="bold" textLength="10.727" lengthAdjust="spacingAndGlyphs">-</text>
<text x="1589.67" y="907.93" fill="#000" font-family='"Liberation Sans", sans-serif' font-size="28.717" font-weight="bold" textLength="16.561" lengthAdjust="spacingAndGlyphs">+</text>
<text x="1641.63" y="906.07" fill="#000" font-family='"Liberation Sans", sans-serif' font-size="27.277" font-weight="bold" textLength="130.432" lengthAdjust="spacingAndGlyphs">Metformin</text>
<text x="1522.93" y="963.10" fill="#000" font-family='"Liberation Sans", sans-serif' font-size="27.143" font-weight="bold" textLength="69.209" lengthAdjust="spacingAndGlyphs">D1D2</text>
<text x="97.27" y="1085.50" fill="#000" font-family='"Liberation Sans", sans-serif' font-size="46.366" font-weight="normal" textLength="27.636" lengthAdjust="spacingAndGlyphs" stroke="#000" stroke-width="1.1" stroke-linejoin="round">C</text>
<text x="132.47" y="1142.57" fill="#000" font-family='"Liberation Sans", sans-serif' font-size="30.938" font-weight="bold" textLength="150.924" lengthAdjust="spacingAndGlyphs">OCI-AML-3</text>
<text x="65.50" y="1200.57" fill="#595959" font-family='"Liberation Sans", sans-serif' font-size="26.485" font-weight="bold" textLength="31.402" lengthAdjust="spacingAndGlyphs">80</text>
<text x="65.50" y="1271.67" fill="#595959" font-family='"Liberation Sans", sans-serif' font-size="26.485" font-weight="bold" textLength="31.402" lengthAdjust="spacingAndGlyphs">60</text>
<text x="66.17" y="1342.97" fill="#595959" font-family='"Liberation Sans", sans-serif' font-size="26.485" font-weight="bold" textLength="30.741" lengthAdjust="spacingAndGlyphs">40</text>
<text x="65.50" y="1414.27" fill="#595959" font-family='"Liberation Sans", sans-serif' font-size="26.485" font-weight="bold" textLength="31.402" lengthAdjust="spacingAndGlyphs">20</text>
<text x="81.00" y="1485.57" fill="#595959" font-family='"Liberation Sans", sans-serif' font-size="26.485" font-weight="bold" textLength="15.908" lengthAdjust="spacingAndGlyphs">0</text>
<text transform="translate(28.07,1428.97) rotate(-90)" fill="#595959" font-family='"Liberation Sans", sans-serif' font-size="31.137" font-weight="bold" textLength="168.505" lengthAdjust="spacingAndGlyphs">% cell death</text>
<text x="517.43" y="1116.07" fill="#000" font-family='"Liberation Sans", sans-serif' font-size="78.080" font-weight="bold" textLength="14.765" lengthAdjust="spacingAndGlyphs">_</text>
<text x="578.80" y="1120.57" fill="#000" font-family='"Liberation Sans", sans-serif' font-size="29.094" font-weight="bold" textLength="136.945" lengthAdjust="spacingAndGlyphs">Metformin</text>
<text x="610.23" y="1403.83" fill="#000" font-family='"DejaVu Sans", sans-serif' font-size="32.873" font-weight="bold" textLength="15.890" lengthAdjust="spacingAndGlyphs">*</text>
<text x="653.23" y="1323.53" fill="#000" font-family='"DejaVu Sans", sans-serif' font-size="32.873" font-weight="bold" textLength="15.706" lengthAdjust="spacingAndGlyphs">*</text>
<text x="191.17" y="1520.70" fill="#000" font-family='"Liberation Sans", sans-serif' font-size="35.590" font-weight="bold" textLength="18.883" lengthAdjust="spacingAndGlyphs">-</text>
<text x="293.60" y="1526.83" fill="#000" font-family='"Liberation Sans", sans-serif' font-size="30.930" font-weight="normal" textLength="87.804" lengthAdjust="spacingAndGlyphs" stroke="#000" stroke-width="0.5" stroke-linejoin="round">ULBP1</text>
<text x="438.57" y="1527.37" fill="#000" font-family='"Liberation Sans", sans-serif' font-size="29.561" font-weight="normal" textLength="107.335" lengthAdjust="spacingAndGlyphs" stroke="#000" stroke-width="0.5" stroke-linejoin="round">MICA/B</text>
<text x="603.00" y="1527.17" fill="#000" font-family='"Liberation Sans", sans-serif' font-size="31.413" font-weight="normal" textLength="65.135" lengthAdjust="spacingAndGlyphs" stroke="#000" stroke-width="0.5" stroke-linejoin="round">LFA1</text>
<text x="911.90" y="1095.33" fill="#000" font-family='"Liberation Sans", sans-serif' font-size="44.315" font-weight="normal" textLength="29.806" lengthAdjust="spacingAndGlyphs" stroke="#000" stroke-width="1.1" stroke-linejoin="round">D</text>
<text x="923.00" y="1142.37" fill="#000" font-family='"Liberation Sans", sans-serif' font-size="32.049" font-weight="bold" textLength="127.745" lengthAdjust="spacingAndGlyphs">NB4 cells</text>
<text x="1366.30" y="1129.97" fill="#000" font-family='"Liberation Sans", sans-serif' font-size="33.186" font-weight="bold" textLength="153.228" lengthAdjust="spacingAndGlyphs">Metformin</text>
<text x="821.80" y="1140.27" fill="#000" font-family='"Liberation Sans", sans-serif' font-size="31.175" font-weight="bold" textLength="35.350" lengthAdjust="spacingAndGlyphs">80</text>
<text x="821.47" y="1232.77" fill="#000" font-family='"Liberation Sans", sans-serif' font-size="31.175" font-weight="bold" textLength="35.711" lengthAdjust="spacingAndGlyphs">60</text>
<text x="822.47" y="1325.32" fill="#000" font-family='"Liberation Sans", sans-serif' font-size="31.175" font-weight="bold" textLength="34.606" lengthAdjust="spacingAndGlyphs">40</text>
<text x="821.80" y="1417.67" fill="#000" font-family='"Liberation Sans", sans-serif' font-size="31.175" font-weight="bold" textLength="35.350" lengthAdjust="spacingAndGlyphs">20</text>
<text x="838.17" y="1510.07" fill="#000" font-family='"Liberation Sans", sans-serif' font-size="31.175" font-weight="bold" textLength="19.084" lengthAdjust="spacingAndGlyphs">0</text>
<text x="1073.63" y="1391.90" fill="#000" font-family='"DejaVu Sans", sans-serif' font-size="32.185" font-weight="bold" textLength="15.521" lengthAdjust="spacingAndGlyphs">*</text>
<text x="1141.33" y="1424.90" fill="#000" font-family='"DejaVu Sans", sans-serif' font-size="32.185" font-weight="bold" textLength="40.001" lengthAdjust="spacingAndGlyphs" letter-spacing="4.828">**</text>
<text x="1384.03" y="1285.20" fill="#000" font-family='"DejaVu Sans", sans-serif' font-size="32.506" font-weight="bold" textLength="15.706" lengthAdjust="spacingAndGlyphs">*</text>
<text x="1461.23" y="1291.43" fill="#000" font-family='"DejaVu Sans", sans-serif' font-size="32.873" font-weight="bold" textLength="15.706" lengthAdjust="spacingAndGlyphs">*</text>
<text x="1526.13" y="1369.00" fill="#000" font-family='"DejaVu Sans", sans-serif' font-size="32.527" font-weight="bold" textLength="40.392" lengthAdjust="spacingAndGlyphs" letter-spacing="4.879">**</text>
<text x="918.13" y="1548.60" fill="#000" font-family='"Liberation Sans", sans-serif' font-size="98.866" font-weight="bold" textLength="16.691" lengthAdjust="spacingAndGlyphs">_</text>
<text x="981.90" y="1554.23" fill="#000" font-family='"Liberation Sans", sans-serif' font-size="31.374" font-weight="bold" textLength="42.415" lengthAdjust="spacingAndGlyphs">2,5</text>
<text x="1071.60" y="1554.37" fill="#000" font-family='"Liberation Sans", sans-serif' font-size="32.146" font-weight="bold" textLength="17.063" lengthAdjust="spacingAndGlyphs">5</text>
<text x="1140.80" y="1554.17" fill="#000" font-family='"Liberation Sans", sans-serif' font-size="31.645" font-weight="bold" textLength="34.677" lengthAdjust="spacingAndGlyphs">10</text>
<text x="1304.43" y="1548.60" fill="#000" font-family='"Liberation Sans", sans-serif' font-size="98.866" font-weight="bold" textLength="16.691" lengthAdjust="spacingAndGlyphs">_</text>
<text x="1368.20" y="1554.23" fill="#000" font-family='"Liberation Sans", sans-serif' font-size="31.374" font-weight="bold" textLength="42.415" lengthAdjust="spacingAndGlyphs">2,5</text>
<text x="1457.90" y="1554.37" fill="#000" font-family='"Liberation Sans", sans-serif' font-size="32.146" font-weight="bold" textLength="17.063" lengthAdjust="spacingAndGlyphs">5</text>
<text x="1527.10" y="1554.17" fill="#000" font-family='"Liberation Sans", sans-serif' font-size="31.645" font-weight="bold" textLength="34.677" lengthAdjust="spacingAndGlyphs">10</text>
<text x="1139.40" y="1617.30" fill="#000" font-family='"Liberation Sans", sans-serif' font-size="34.108" font-weight="normal" textLength="275.168" lengthAdjust="spacingAndGlyphs">Anti-LFA1 (ug/mL)</text>
</svg>
</body></html>
